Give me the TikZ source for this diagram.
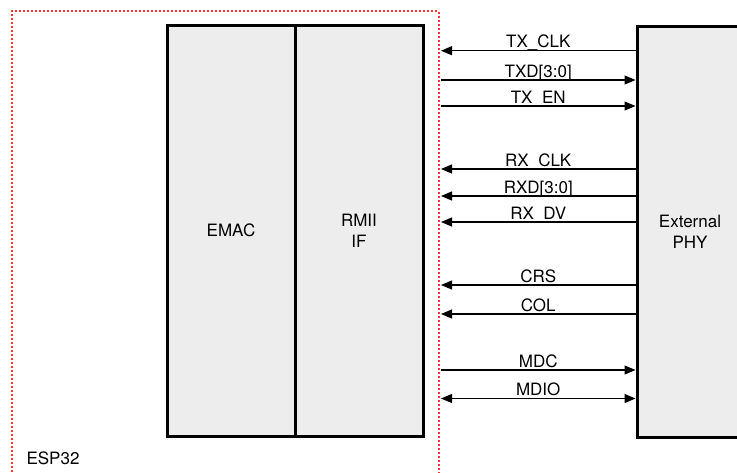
\documentclass[tikz,border=0pt]{standalone}
\usepackage{fontspec}
\setmainfont{TeX Gyre Heros}
\usetikzlibrary{arrows.meta}
\begin{document}
\begin{tikzpicture}[x=1pt, y=-1pt,
  block/.style={draw=black, line width=3pt, fill=gray!14, minimum height=411pt, inner sep=0pt, align=center, font=\fontsize{17}{21}\selectfont},
  sigline/.style={line width=1.2pt, -{Triangle[length=11pt, width=9pt]}},
  siglabel/.style={midway, anchor=base, yshift=3pt, inner sep=0pt, font=\fontsize{17}{21}\selectfont}]
\useasboundingbox (0,0) rectangle (737,472);
% ESP32 border (open at the bottom)
\draw[red!80, line width=2pt, dash pattern=on 2pt off 2pt] (12,480) -- (12,11) -- (438.5,11) -- (438.5,480);
\node[anchor=west, font=\fontsize{17}{21}\selectfont] (esp) at (23,458) {ESP32};
% blocks
\node[block, minimum width=128pt] (emac) at (231,230.5) {EMAC};
\node[block, minimum width=128pt] (rmii) at (359,230.5) {RMII\\IF};
\node[block, minimum width=106pt] (phy) at (690,231.5) {External\\PHY};
% free ends on the ESP32 border
\coordinate (txclk) at (441,50.7);
\coordinate (txd) at (441,80);
\coordinate (txen) at (441,106);
\coordinate (rxclk) at (441,169);
\coordinate (rxd) at (441,196);
\coordinate (rxdv) at (441,222);
\coordinate (crs) at (441,285);
\coordinate (col) at (441,314);
\coordinate (mdc) at (441,370);
\coordinate (mdio) at (441,398.5);
% signals
\draw[sigline] (phy.west |- txclk) -- node[siglabel] {TX\_CLK} (txclk);
\draw[sigline] (txd) -- node[siglabel] {TXD[3:0]} (phy.west |- txd);
\draw[sigline] (txen) -- node[siglabel] {TX\_EN} (phy.west |- txen);
\draw[sigline] (phy.west |- rxclk) -- node[siglabel] {RX\_CLK} (rxclk);
\draw[sigline] (phy.west |- rxd) -- node[siglabel] {RXD[3:0]} (rxd);
\draw[sigline] (phy.west |- rxdv) -- node[siglabel] {RX\_DV} (rxdv);
\draw[sigline] (phy.west |- crs) -- node[siglabel] {CRS} (crs);
\draw[sigline] (phy.west |- col) -- node[siglabel] {COL} (col);
\draw[sigline] (mdc) -- node[siglabel] {MDC} (phy.west |- mdc);
\draw[sigline, {Triangle[length=11pt, width=9pt]}-{Triangle[length=11pt, width=9pt]}] (mdio) -- node[siglabel] {MDIO} (phy.west |- mdio);
\end{tikzpicture}
\end{document}
